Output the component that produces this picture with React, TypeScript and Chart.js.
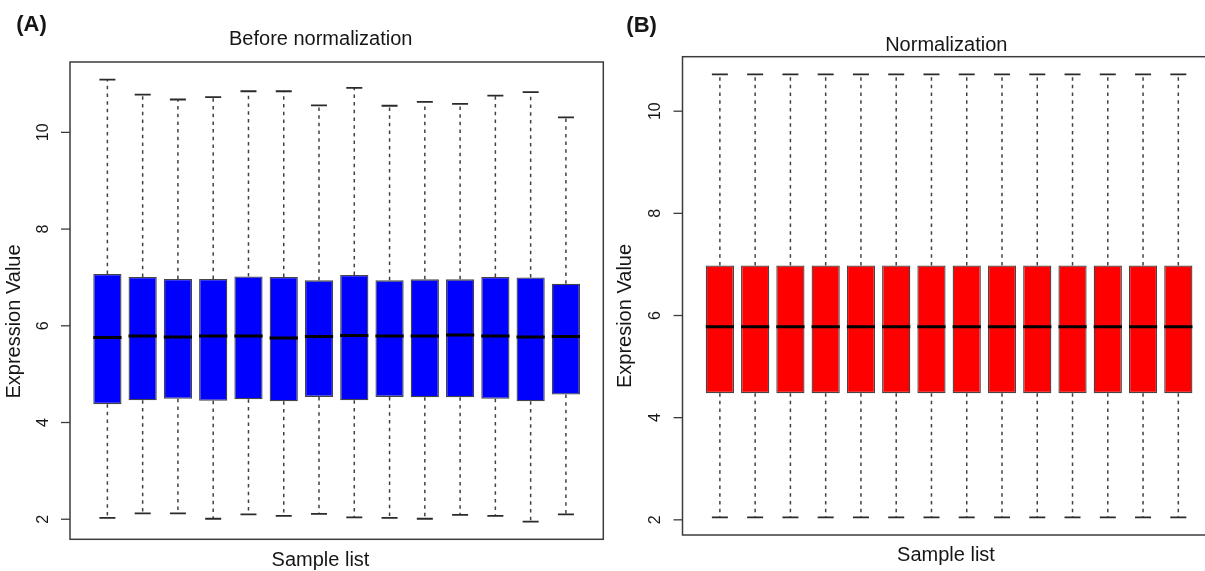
import React, { useEffect, useRef } from "react";
import { Chart, registerables } from "chart.js";

Chart.register(...registerables);

// ---------- data ----------
const SAMPLES = ["S1", "S2", "S3", "S4", "S5", "S6", "S7", "S8", "S9", "S10", "S11", "S12", "S13", "S14"];
const Y_TICKS = [2, 4, 6, 8, 10];

// (A) Before normalization
const A_UPPER = [11.09, 10.78, 10.68, 10.73, 10.85, 10.85, 10.56, 10.92, 10.55, 10.63, 10.59, 10.76, 10.83, 10.31];
const A_Q3 = [7.07, 7.01, 6.97, 6.97, 7.02, 7.01, 6.94, 7.05, 6.94, 6.96, 6.96, 7.01, 7.0, 6.87];
const A_MEDIAN = [5.76, 5.79, 5.77, 5.79, 5.79, 5.75, 5.78, 5.8, 5.79, 5.79, 5.81, 5.79, 5.77, 5.78];
const A_Q1 = [4.38, 4.46, 4.49, 4.45, 4.48, 4.44, 4.53, 4.46, 4.53, 4.52, 4.52, 4.49, 4.44, 4.58];
const A_LOWER = [2.03, 2.12, 2.12, 2.01, 2.1, 2.07, 2.11, 2.04, 2.03, 2.01, 2.09, 2.07, 1.95, 2.1];

// (B) Normalization
const B_UPPER = [10.72, 10.72, 10.72, 10.72, 10.72, 10.72, 10.72, 10.72, 10.72, 10.72, 10.72, 10.72, 10.72, 10.72];
const B_Q3 = [6.98, 6.98, 6.98, 6.98, 6.98, 6.98, 6.98, 6.98, 6.98, 6.98, 6.98, 6.98, 6.98, 6.98];
const B_MEDIAN = [5.78, 5.78, 5.78, 5.78, 5.78, 5.78, 5.78, 5.78, 5.78, 5.78, 5.78, 5.78, 5.78, 5.78];
const B_Q1 = [4.48, 4.48, 4.48, 4.48, 4.48, 4.48, 4.48, 4.48, 4.48, 4.48, 4.48, 4.48, 4.48, 4.48];
const B_LOWER = [2.05, 2.05, 2.05, 2.05, 2.05, 2.05, 2.05, 2.05, 2.05, 2.05, 2.05, 2.05, 2.05, 2.05];

// axis limits (R style: data range extended by 4%)
const X_MIN = -0.06;
const X_MAX = 15.06;
const A_Y_MIN = 1.585;
const A_Y_MAX = 11.455;
const B_Y_MIN = 1.703;
const B_Y_MAX = 11.067;

// ---------- styles ----------
const FONT = '"Liberation Sans", Arial, Helvetica, sans-serif';
const TEXT = "#161616";
const BOX_HALF = 0.4;
const CAP_HALF = 0.227;

type Panel = {
  tag: string;
  title: string;
  yLabel: string;
  color: string;
  upper: number[];
  q3: number[];
  median: number[];
  q1: number[];
  lower: number[];
  yMin: number;
  yMax: number;
  left: number;
  width: number;
  padding: { left: number; top: number; right: number; bottom: number };
  tagPos: [number, number];
  titlePos: [number, number];
  xLabelPos: [number, number];
  yLabelPos: [number, number];
  tickLabelX: number;
};

const PANELS: Panel[] = [
  {
    tag: "(A)",
    title: "Before normalization",
    yLabel: "Expression Value",
    color: "#0000ff",
    upper: A_UPPER,
    q3: A_Q3,
    median: A_MEDIAN,
    q1: A_Q1,
    lower: A_LOWER,
    yMin: A_Y_MIN,
    yMax: A_Y_MAX,
    left: 0,
    width: 608,
    padding: { left: 70, top: 62, right: 4.7, bottom: 31.7 },
    tagPos: [31.5, 24.5],
    titlePos: [320.7, 39.5],
    xLabelPos: [320.5, 560.5],
    yLabelPos: [14.8, 321.5],
    tickLabelX: 43.3,
  },
  {
    tag: "(B)",
    title: "Normalization",
    yLabel: "Expresion Value",
    color: "#ff0000",
    upper: B_UPPER,
    q3: B_Q3,
    median: B_MEDIAN,
    q1: B_Q1,
    lower: B_LOWER,
    yMin: B_Y_MIN,
    yMax: B_Y_MAX,
    left: 608,
    width: 612,
    padding: { left: 74.5, top: 56.7, right: 4.3, bottom: 36 },
    tagPos: [33.6, 25.5],
    titlePos: [338.3, 45.7],
    xLabelPos: [338, 555.5],
    yLabelPos: [17, 316],
    tickLabelX: 47.8,
  },
];

function framePlugin(p: Panel) {
  return {
    id: "rframe",
    afterDraw(chart: any) {
      const { ctx, chartArea } = chart;
      const { left, top, right, bottom } = chartArea;
      const ys = chart.scales.y;
      ctx.save();
      // frame
      ctx.strokeStyle = "#3c3c3c";
      ctx.lineWidth = 1.5;
      ctx.strokeRect(left, top, right - left, bottom - top);
      // y ticks
      ctx.lineWidth = 1.3;
      ctx.fillStyle = TEXT;
      ctx.font = `16px ${FONT}`;
      ctx.textAlign = "center";
      ctx.textBaseline = "middle";
      for (const v of Y_TICKS) {
        const py = ys.getPixelForValue(v);
        ctx.beginPath();
        ctx.moveTo(left - 9, py);
        ctx.lineTo(left, py);
        ctx.stroke();
        ctx.save();
        ctx.translate(p.tickLabelX, py);
        ctx.rotate(-Math.PI / 2);
        ctx.fillText(String(v), 0, 0);
        ctx.restore();
      }
      // y label
      ctx.font = `20px ${FONT}`;
      ctx.save();
      ctx.translate(p.yLabelPos[0], p.yLabelPos[1]);
      ctx.rotate(-Math.PI / 2);
      ctx.fillText(p.yLabel, 0, 0);
      ctx.restore();
      // x label & title
      ctx.fillText("Sample list", p.xLabelPos[0], p.xLabelPos[1]);
      ctx.fillText(p.title, p.titlePos[0], p.titlePos[1]);
      // tag
      ctx.font = `bold 22px ${FONT}`;
      ctx.fillText(p.tag, p.tagPos[0], p.tagPos[1]);
      ctx.restore();
    },
  };
}

function buildDatasets(p: Panel) {
  const boxes = SAMPLES.map((_, i) => ({ x: i + 1, y: [p.q1[i], p.q3[i]] }));
  const whiskers: any[] = [];
  const caps: any[] = [];
  const medians: any[] = [];
  SAMPLES.forEach((_, i) => {
    const x = i + 1;
    whiskers.push({ x, y: p.q3[i] }, { x, y: p.upper[i] }, { x, y: null });
    whiskers.push({ x, y: p.q1[i] }, { x, y: p.lower[i] }, { x, y: null });
    caps.push({ x: x - CAP_HALF, y: p.upper[i] }, { x: x + CAP_HALF, y: p.upper[i] }, { x, y: null });
    caps.push({ x: x - CAP_HALF, y: p.lower[i] }, { x: x + CAP_HALF, y: p.lower[i] }, { x, y: null });
    medians.push({ x: x - BOX_HALF, y: p.median[i] }, { x: x + BOX_HALF, y: p.median[i] }, { x, y: null });
  });
  const lineBase = {
    type: "line",
    pointRadius: 0,
    pointHoverRadius: 0,
    fill: false,
    tension: 0,
    spanGaps: false,
    borderCapStyle: "butt",
  };
  return [
    {
      ...lineBase,
      label: "median",
      data: medians,
      borderColor: "#000000",
      borderWidth: 3,
      order: 0,
    },
    {
      ...lineBase,
      label: "caps",
      data: caps,
      borderColor: "#2a2a2a",
      borderWidth: 1.8,
      order: 1,
    },
    {
      ...lineBase,
      label: "whiskers",
      data: whiskers,
      borderColor: "#404040",
      borderWidth: 1.5,
      borderDash: [3.5, 4.2],
      order: 2,
    },
    {
      type: "bar",
      label: "box",
      data: boxes,
      backgroundColor: p.color,
      borderColor: "#454545",
      borderWidth: 1.3,
      borderSkipped: false,
      categoryPercentage: 1,
      barPercentage: 2 * BOX_HALF,
      order: 3,
    },
  ];
}

function BoxPanel({ p }: { p: Panel }) {
  const ref = useRef<HTMLCanvasElement | null>(null);
  useEffect(() => {
    if (!ref.current) return;
    const chart = new Chart(ref.current, {
      type: "bar",
      data: { datasets: buildDatasets(p) as any },
      options: {
        responsive: false,
        animation: false,
        devicePixelRatio: 1,
        events: [],
        layout: { padding: p.padding },
        plugins: { legend: { display: false }, tooltip: { enabled: false }, title: { display: false } },
        scales: {
          x: { type: "linear", display: false, min: X_MIN, max: X_MAX, offset: false, grid: { offset: false } },
          y: { type: "linear", display: false, min: p.yMin, max: p.yMax, beginAtZero: false },
        },
      } as any,
      plugins: [framePlugin(p)],
    });
    return () => chart.destroy();
  }, [p]);
  return (
    <canvas
      ref={ref}
      width={p.width}
      height={571}
      style={{ position: "absolute", left: p.left, top: 0, width: p.width, height: 571 }}
    />
  );
}

export default function App() {
  return (
    <div
      style={{
        position: "fixed",
        left: 0,
        top: 0,
        width: 1205,
        height: 571,
        overflow: "hidden",
        background: "#ffffff",
      }}
    >
      {PANELS.map((p) => (
        <BoxPanel key={p.tag} p={p} />
      ))}
    </div>
  );
}
